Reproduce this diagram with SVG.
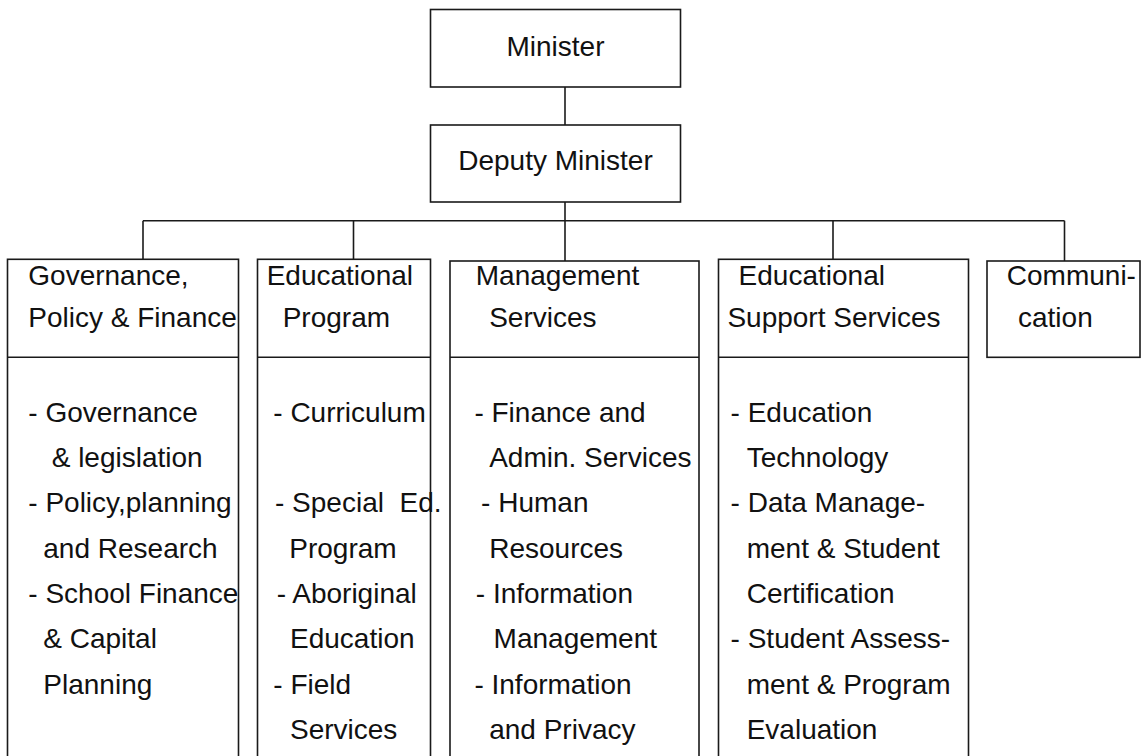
<svg xmlns="http://www.w3.org/2000/svg" width="1141" height="756" viewBox="0 0 1141 756">
<style>
.box{fill:#fff;stroke:#1a1a1a;stroke-width:1.6}
.ln{fill:none;stroke:#1a1a1a;stroke-width:1.6}
text{font-family:"Liberation Sans",Arial,sans-serif;font-size:28px;fill:#111}
.c{text-anchor:middle}
</style>
<rect width="1141" height="756" fill="#fff"/>
<g id="connectors">
<line class="ln" x1="565" y1="87" x2="565" y2="125"/>
<line class="ln" x1="565" y1="202" x2="565" y2="261"/>
<line class="ln" x1="143" y1="220.7" x2="1064.5" y2="220.7"/>
<line class="ln" x1="143" y1="220.7" x2="143" y2="259.3"/>
<line class="ln" x1="353.5" y1="220.7" x2="353.5" y2="259.3"/>
<line class="ln" x1="833" y1="220.7" x2="833" y2="259.3"/>
<line class="ln" x1="1064.5" y1="220.7" x2="1064.5" y2="261"/>
</g>
<g id="minister">
<rect class="box" x="430.5" y="9.5" width="250" height="77.5"/>
<text class="c" x="555.5" y="56">Minister</text>
</g>
<g id="deputy">
<rect class="box" x="430.5" y="125" width="250" height="77"/>
<text class="c" x="555.5" y="170">Deputy Minister</text>
</g>
<g id="governance">
<rect class="box" x="7.5" y="259.3" width="231" height="510"/>
<line class="ln" x1="7.5" y1="357.3" x2="238.5" y2="357.3"/>
<text x="28.3" y="285">Governance,</text>
<text x="28.3" y="326.7">Policy &amp; Finance</text>
<text x="28.3" y="421.7">- Governance</text>
<text x="51.7" y="467">&amp; legislation</text>
<text x="28.3" y="512.3">- Policy,planning</text>
<text x="43.3" y="557.6">and Research</text>
<text x="28.3" y="603">- School Finance</text>
<text x="43.3" y="648.3">&amp; Capital</text>
<text x="43.3" y="693.6">Planning</text>
</g>
<g id="educational-program">
<rect class="box" x="257.5" y="259.3" width="173" height="510"/>
<line class="ln" x1="257.5" y1="357.3" x2="430.5" y2="357.3"/>
<text x="266.7" y="285">Educational</text>
<text x="282.7" y="326.7">Program</text>
<text x="273.3" y="421.7">- Curriculum</text>
<text x="275" y="512.3" xml:space="preserve">- Special  Ed.</text>
<text x="289.3" y="557.6">Program</text>
<text x="276.7" y="603">- Aboriginal</text>
<text x="290" y="648.3">Education</text>
<text x="273.3" y="693.6">- Field</text>
<text x="290" y="739">Services</text>
</g>
<g id="management-services">
<rect class="box" x="450" y="261" width="249" height="510"/>
<line class="ln" x1="450" y1="357.3" x2="699" y2="357.3"/>
<text x="475.8" y="285">Management</text>
<text x="489.2" y="326.7">Services</text>
<text x="474.4" y="421.7">- Finance and</text>
<text x="489.2" y="467">Admin. Services</text>
<text x="481.1" y="512.3">- Human</text>
<text x="489.2" y="557.6">Resources</text>
<text x="475.8" y="603">- Information</text>
<text x="493.6" y="648.3">Management</text>
<text x="474.4" y="693.6">- Information</text>
<text x="489.2" y="739">and Privacy</text>
</g>
<g id="educational-support">
<rect class="box" x="718.5" y="259.3" width="250" height="510"/>
<line class="ln" x1="718.5" y1="357.3" x2="968.5" y2="357.3"/>
<text x="738.6" y="285">Educational</text>
<text x="727.4" y="326.7">Support Services</text>
<text x="730.6" y="421.7">- Education</text>
<text x="746.7" y="467">Technology</text>
<text x="730.6" y="512.3">- Data Manage-</text>
<text x="746.7" y="557.6">ment &amp; Student</text>
<text x="746.7" y="603">Certification</text>
<text x="730.6" y="648.3">- Student Assess-</text>
<text x="746.7" y="693.6">ment &amp; Program</text>
<text x="746.7" y="739">Evaluation</text>
</g>
<g id="communication">
<rect class="box" x="987" y="261" width="153" height="96.3"/>
<text x="1006.8" y="285">Communi-</text>
<text x="1018" y="326.7">cation</text>
</g>
</svg>
